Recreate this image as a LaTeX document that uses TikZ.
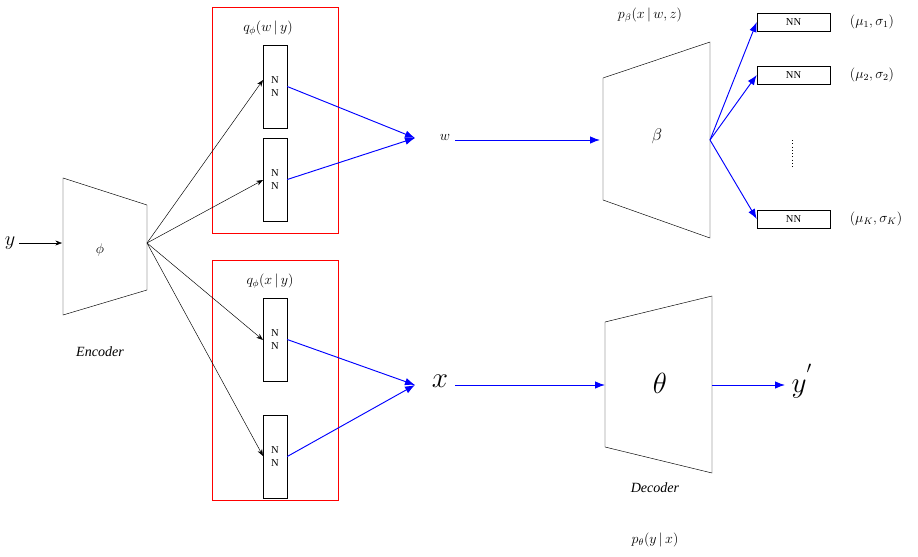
\documentclass[tikz,border=0pt]{standalone}
\usepackage{fontspec}
\setmainfont{Liberation Serif}
\usetikzlibrary{arrows.meta}
\begin{document}
\begin{tikzpicture}[x=0.03cm,y=-0.03cm,
  nnb/.style={draw,fill=white,minimum width=0.72cm,minimum height=2.49cm,inner sep=0pt,font=\small,align=center},
  nns/.style={draw,fill=white,minimum width=2.19cm,minimum height=0.54cm,inner sep=0pt,font=\small},
  red/.style={draw=red,thick},
  ba/.style={draw=blue,thick,-{Latex[length=3mm]}},
  ka/.style={draw,-{Stealth[length=2mm]}}]
\useasboundingbox (0,0) rectangle (918,556);
% encoder
\draw (63,178) -- (147,205) -- (147,290) -- (63,315) -- cycle;
\node[font=\large] (enc) at (100,250) {$\phi$};
\coordinate (encR) at (147,243);
\node[font=\large] at (100,352) {\textit{Encoder}};
\node (y) at (10,243) {\LARGE $y$};
\coordinate (yin) at (62,243);
\draw[ka] (y.east) -- (yin);
% red boxes
\draw[red] (212,7) rectangle (338,233);
\draw[red] (212,260) rectangle (338,500);
\node[font=\large] (q1) at (268,28) {$q_\phi(w\,|\,y)$};
\node[font=\large] (q2) at (270,281) {$q_\phi(x\,|\,y)$};
\node[nnb] (n1) at (275,86.5) {N\\N};
\node[nnb] (n2) at (275,179.5) {N\\N};
\node[nnb] (n3) at (275,339.5) {N\\N};
\node[nnb] (n4) at (275,456.5) {N\\N};
\foreach \n/\yy in {n1/80,n2/180,n3/340,n4/456}{\draw[ka] (encR) -- (263,\yy);}
% w
\coordinate (wp) at (415,138);
\node[font=\large] (w) at (445,137) {$w$};
\draw[ba] (n1.east) -- (wp);
\draw[ba] (n2.east) -- (wp);
% beta
\draw (603,78) -- (710,42) -- (710,238) -- (603,200) -- cycle;
\node[font=\Large] (beta) at (657,136) {$\beta$};
\coordinate (betaL) at (600,140);
\coordinate (betaR) at (710,140);
\coordinate (wout) at (455,140);
\draw[ba] (wout) -- (betaL);
\node[font=\large] at (650,15) {$p_\beta(x\,|\,w,z)$};
\node[nns] (s1) at (793.5,22) {NN};
\node[nns] (s2) at (793.5,75) {NN};
\node[nns] (s3) at (793.5,219) {NN};
\draw[ba] (betaR) -- (s1.west);
\draw[ba] (betaR) -- (s2.west);
\draw[ba] (betaR) -- (s3.west);
\draw[dotted,thick] (792,140) -- (792,168);
\node[font=\large] at (872,22) {$(\mu_1,\sigma_1)$};
\node[font=\large] at (872,75) {$(\mu_2,\sigma_2)$};
\node[font=\large] at (876,219) {$(\mu_K,\sigma_K)$};
% x
\coordinate (xp) at (415,385);
\node (x) at (440,381) {\fontsize{34}{36}\selectfont $x$};
\draw[ba] (n3.east) -- (xp);
\draw[ba] (n4.east) -- (xp);
% theta
\draw (605,322) -- (712,296) -- (712,473) -- (605,447) -- cycle;
\node (theta) at (660,383) {\fontsize{26}{28}\selectfont $\theta$};
\coordinate (thL) at (605,385);
\coordinate (thR) at (712,385);
\coordinate (xout) at (455,385);
\draw[ba] (xout) -- (thL);
\node (yp) at (802,381) {\fontsize{30}{32}\selectfont $y^{'}$};
\draw[ba] (thR) -- (785,385);
\node[font=\large] at (655,488) {\textit{Decoder}};
\node[font=\large] at (655,540) {$p_\theta(y\,|\,x)$};
\end{tikzpicture}
\end{document}
